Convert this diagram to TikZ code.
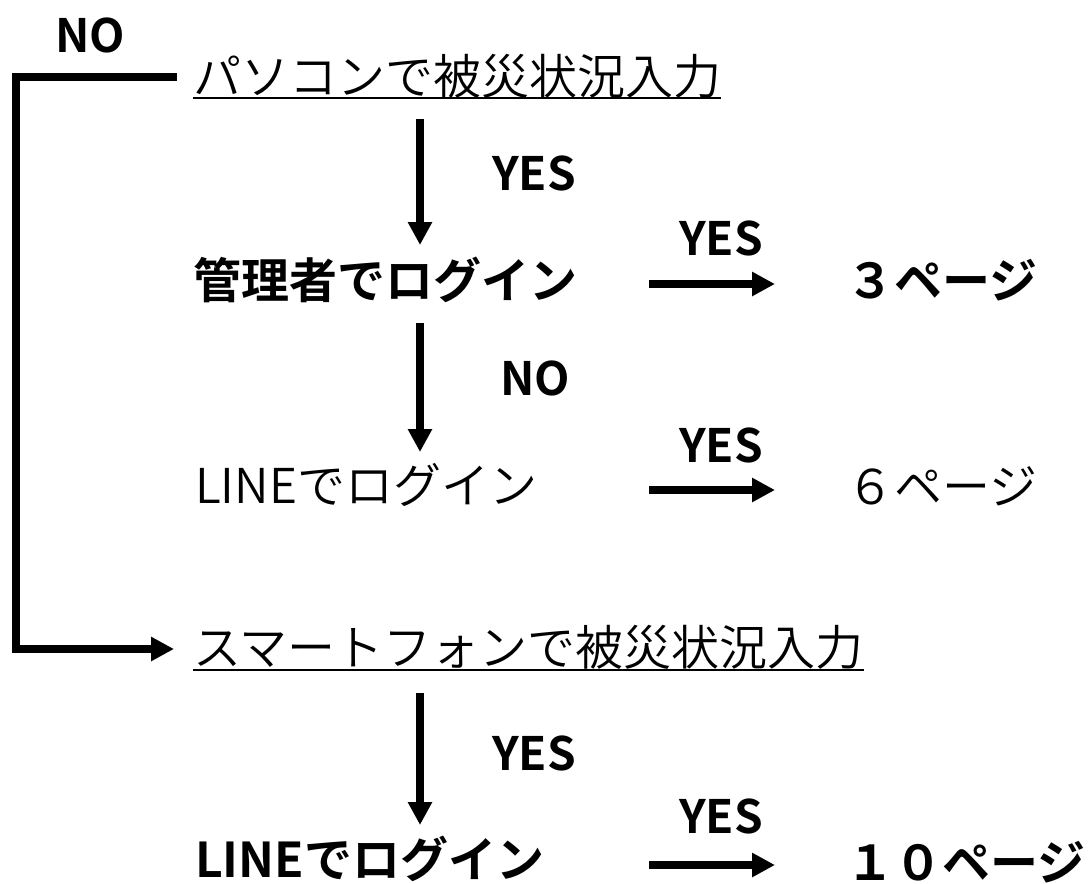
\documentclass[tikz,border=0pt]{standalone}
\usepackage{fontspec}
\setmainfont{Noto Sans CJK JP}[UprightFont={* DemiLight}, BoldFont={* Bold}]
\usetikzlibrary{arrows.meta}
\begin{document}
\begin{tikzpicture}[x=1pt,y=-1pt,
  jp/.style={font=\fontsize{48}{58}\selectfont, inner sep=0pt, anchor=base west},
  jpb/.style={font=\fontsize{48}{58}\selectfont\bfseries, inner sep=0pt, anchor=base west},
  lbl/.style={font=\fontsize{46}{55}\selectfont\bfseries, inner sep=0pt, anchor=base},
  flow/.style={line width=8pt, -{Triangle[length=23pt,width=23pt]}},
  bracket/.style={line width=8pt, line join=miter},
  uline/.style={line width=2pt}]
\useasboundingbox (0,0) rectangle (1088,884);

% texts
\node[jp]  (pc)    at (193,94)  {パソコンで被災状況入力};
\node[jpb] (admin) at (193,298) {管理者でログイン};
\node[jpb] (p3)    at (846,298) {３ページ};
\node[jp]  (line1) at (195,503) {LINEでログイン};
\node[jp]  (p6)    at (846,504) {６ページ};
\node[jp]  (sp)    at (193,665) {スマートフォンで被災状況入力};
\node[jpb] (line2) at (195,877) {LINEでログイン};
\node[jpb] (p10)   at (846,880) {１０ページ};

% underlines
\draw[uline] ([yshift=-4pt]pc.base west) -- ([yshift=-4pt]pc.base east);
\draw[uline] ([yshift=-5pt]sp.base west) -- ([yshift=-5pt]sp.base east);

% labels
\node[lbl] (no0)  at (90,52)   {NO};
\node[lbl] (yes1) at (534,190) {YES};
\node[lbl] (no1)  at (535,395) {NO};
\node[lbl] (yes2) at (534,770) {YES};
\node[lbl] (yh1)  at (721,255) {YES};
\node[lbl] (yh2)  at (721,462) {YES};
\node[lbl] (yh3)  at (721,833) {YES};

% connector coordinates
\coordinate (v1s) at (420,119); \coordinate (v1e) at (420,245);
\coordinate (v2s) at (420,323); \coordinate (v2e) at (420,452);
\coordinate (v3s) at (420,693); \coordinate (v3e) at (420,825);
\coordinate (h1s) at (649,284); \coordinate (h1e) at (775,284);
\coordinate (h2s) at (649,490); \coordinate (h2e) at (775,490);
\coordinate (h3s) at (649,865); \coordinate (h3e) at (775,865);
\coordinate (bs) at (177,77); \coordinate (bc) at (16,77); \coordinate (be) at (174,649);

% vertical arrows
\draw[flow] (v1s) -- (v1e);
\draw[flow] (v2s) -- (v2e);
\draw[flow] (v3s) -- (v3e);
% horizontal arrows
\draw[flow] (h1s) -- (h1e);
\draw[flow] (h2s) -- (h2e);
\draw[flow] (h3s) -- (h3e);
% NO bracket
\draw[bracket, -{Triangle[length=23pt,width=23pt]}] (bs) -- (bc) |- (be);
\end{tikzpicture}
\end{document}
